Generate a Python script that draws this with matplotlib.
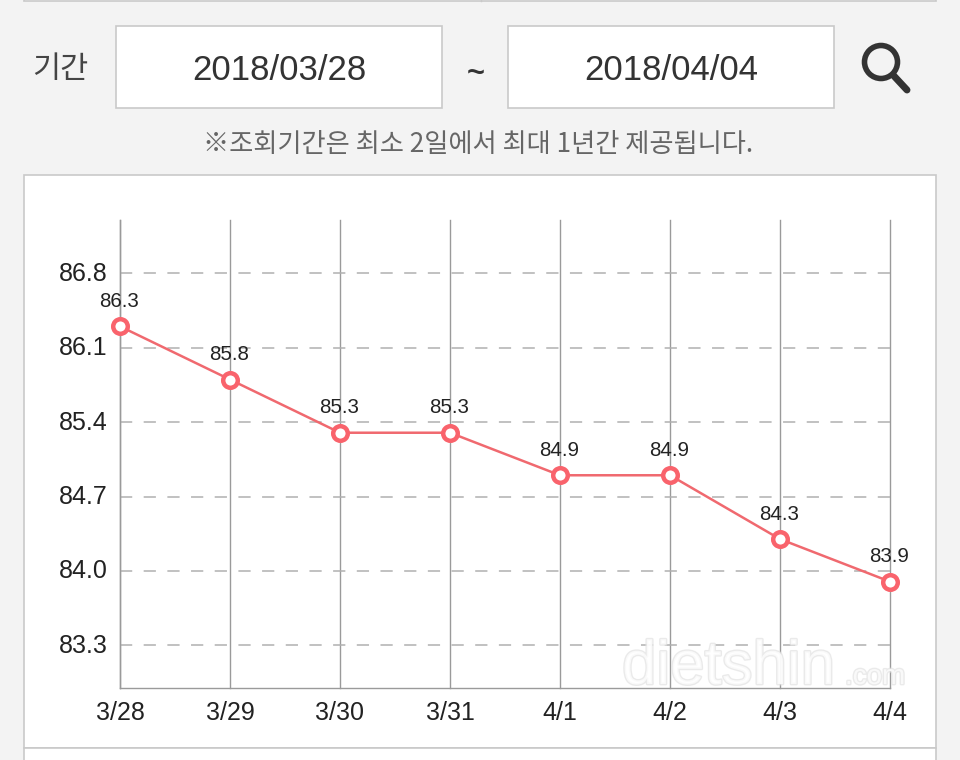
import matplotlib.pyplot as plt
from matplotlib.patches import Rectangle, Circle
from matplotlib.transforms import ScaledTranslation
import matplotlib.patheffects as pe

# chart data
dates = ['3/28', '3/29', '3/30', '3/31', '4/1', '4/2', '4/3', '4/4']
weights = [86.3, 85.8, 85.3, 85.3, 84.9, 84.9, 84.3, 83.9]
y_ticks = [83.3, 84.0, 84.7, 85.4, 86.1, 86.8]

start_date = '2018/03/28'
end_date = '2018/04/04'
period_label = '기간'
notice = '※조회기간은 최소 2일에서 최대 1년간 제공됩니다.'
watermark = 'dietshin'
watermark_end = '.com'

W, H = 960, 760
latin = ['Liberation Sans', 'DejaVu Sans']
korean = ['Noto Sans CJK KR', 'DejaVu Sans']

fig = plt.figure(figsize=(W / 100, H / 100), dpi=100, facecolor='#f3f3f3')

# page furniture, in pixel coordinates
bg = fig.add_axes([0, 0, 1, 1], zorder=0)
bg.set_xlim(0, W)
bg.set_ylim(H, 0)
bg.axis('off')

border = '#c9c9c9'
bg.add_patch(Rectangle((24, -20), 912, 21, fc='white', ec=border, lw=1.2))
bg.plot([481, 481], [-5, 1], color=border, lw=1)
bg.add_patch(Rectangle((24, 175), 912, 573, fc='white', ec=border, lw=1.2))
bg.add_patch(Rectangle((24, 748), 912, 30, fc='white', ec=border, lw=1.2))
bg.add_patch(Rectangle((116, 26), 326, 82, fc='white', ec=border, lw=1.2))
bg.add_patch(Rectangle((508, 26), 326, 82, fc='white', ec=border, lw=1.2))

bg.text(60, 70, period_label, family=korean, fontsize=22, color='#444444', ha='center', va='center')
bg.text(279, 70, start_date, family=latin, fontsize=25, color='#333333', ha='center', va='center')
bg.text(671, 70, end_date, family=latin, fontsize=25, color='#333333', ha='center', va='center')
bg.text(476, 74, '~', family=latin, fontsize=22, fontweight='bold', color='#333333', ha='center', va='center')
bg.text(478.5, 144, notice, family=korean, fontsize=18.9, color='#666666', ha='center', va='center')

# search icon
bg.add_patch(Circle((881, 62), 16.5, fc='none', ec='#333333', lw=4))
bg.plot([894, 907], [76, 90], color='#333333', lw=5, solid_capstyle='round')

# the chart itself
ax = fig.add_axes([120 / W, 1 - 688 / H, 770 / W, 468 / H], zorder=1)
ax.patch.set_alpha(0)
x = list(range(len(dates)))

ax.set_xlim(0, len(dates) - 1)
ax.set_ylim(82.9, 87.3)
ax.set_xticks(x)
ax.set_xticklabels(dates, family=latin, fontsize=18, color='#222222')
ax.set_yticks(y_ticks)
ax.set_yticklabels(['%.1f' % v for v in y_ticks], family=latin, fontsize=18, color='#222222')
ax.tick_params(axis='both', length=0)
ax.tick_params(axis='x', pad=9)
ax.tick_params(axis='y', pad=9)

# y labels sit a little above their gridlines
nudge = ScaledTranslation(0, 2 / 100, fig.dpi_scale_trans)
for label in ax.get_yticklabels():
    label.set_transform(label.get_transform() + nudge)

ax.grid(axis='x', color='#9a9a9a', lw=1)
ax.grid(axis='y', color='#b0b0b0', lw=1.1, dashes=(8, 7.5))
ax.set_axisbelow(True)
for line in ax.get_xgridlines():
    line.set_clip_on(False)
for side in ['top', 'right']:
    ax.spines[side].set_visible(False)
for side in ['left', 'bottom']:
    ax.spines[side].set_color('#9a9a9a')
    ax.spines[side].set_linewidth(1)

ax.plot(x, weights, color='#f0696f', lw=1.8, marker='o', ms=10.5, mfc='white',
        mec='#f9636c', mew=3.2, clip_on=False, zorder=5)
for xi, w in zip(x, weights):
    ax.annotate('%.1f' % w, (xi, w), xytext=(-0.5, 15.5), textcoords='offset pixels',
                family=latin, fontsize=14.8, color='#222222', ha='center', va='bottom',
                annotation_clip=False, zorder=6)

# faint watermark over the corner
top = fig.add_axes([0, 0, 1, 1], zorder=2)
top.set_xlim(0, W)
top.set_ylim(H, 0)
top.axis('off')
outline = [pe.withStroke(linewidth=2, foreground='#e4e4e4')]
top.text(622, 684, watermark, family=latin, fontsize=44.5,
         color='white', alpha=0.75, ha='left', va='baseline', path_effects=outline)
top.text(845, 684, watermark_end, family=latin, fontsize=20,
         color='white', alpha=0.75, ha='left', va='baseline', path_effects=outline)

fig.savefig('out.png', dpi=100, facecolor=fig.get_facecolor())
